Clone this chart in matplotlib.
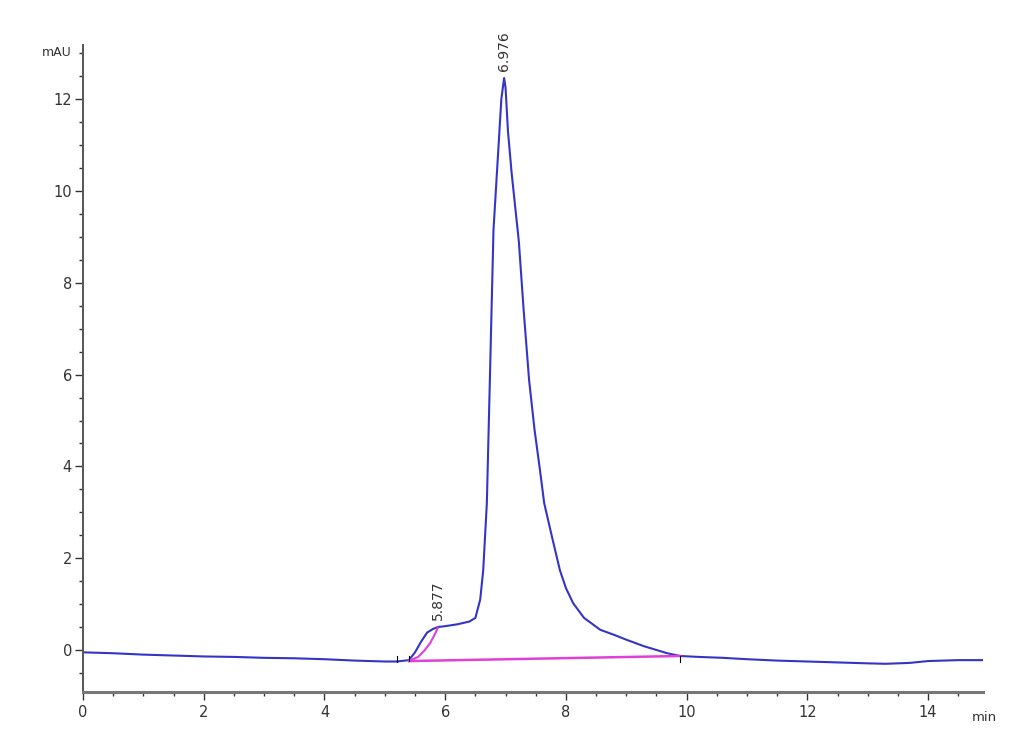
import numpy as np
import matplotlib.pyplot as plt
from matplotlib.ticker import MultipleLocator

# chromatogram trace (min, mAU)
t = [0.0, 0.5, 1.0, 1.5, 2.0, 2.5, 3.0, 3.5, 4.0, 4.5, 5.0, 5.2, 5.4,
     5.5, 5.6, 5.7, 5.8, 5.877, 6.0, 6.2, 6.4, 6.5, 6.58, 6.63, 6.69,
     6.74, 6.80, 6.88, 6.93, 6.976, 7.0, 7.04, 7.1, 7.22, 7.3,
     7.39, 7.48, 7.57, 7.64, 7.77, 7.9, 8.0, 8.12, 8.3, 8.57, 8.8, 9.01,
     9.3, 9.68, 9.89, 10.2, 10.6, 11.0, 11.5, 12.0, 12.5, 13.0, 13.3,
     13.7, 14.0, 14.5, 14.91]
mau = [-0.05, -0.07, -0.1, -0.12, -0.14, -0.15, -0.17, -0.18, -0.2,
       -0.23, -0.25, -0.25, -0.22, -0.05, 0.18, 0.38, 0.46, 0.5, 0.52,
       0.56, 0.62, 0.7, 1.1, 1.74, 3.2, 5.88, 9.15, 10.9, 12.0,
       12.46, 12.25, 11.3, 10.4, 8.9, 7.4, 5.88, 4.8, 3.92, 3.2, 2.46,
       1.74, 1.35, 1.02, 0.7, 0.44, 0.33, 0.22, 0.08, -0.07, -0.13,
       -0.15, -0.17, -0.2, -0.23, -0.25, -0.27, -0.29, -0.3, -0.28,
       -0.24, -0.22, -0.22]

# integration baseline and split line
base_t = [5.4, 9.89]
base_y = [-0.24, -0.13]
split_t = [5.4, 5.55, 5.65, 5.75, 5.82, 5.877]
split_y = [-0.24, -0.15, -0.02, 0.15, 0.32, 0.48]

peaks = [5.877, 6.976]
peak_h = [0.5, 12.46]

fig = plt.figure(figsize=(10.3, 7.55), dpi=100)
ax = fig.add_axes([0.0806, 0.0834, 0.8738, 0.857])

ax.plot(t, mau, color='#3434c8', lw=1.5)
ax.plot(base_t, base_y, color='#e040d8', lw=1.8)
ax.plot(split_t, split_y, color='#e040d8', lw=1.5)

for p, h in zip(peaks, peak_h):
    ax.text(p, h + 0.15, '%.3f' % p, rotation=90, ha='center', va='bottom',
            fontsize=10, color='#333333')

# small integration event ticks
for x0, y0, d in [(5.2, -0.25, 1), (5.4, -0.24, 1), (9.89, -0.13, -1)]:
    ax.plot([x0, x0], [y0, y0 + d * 0.12], color='black', lw=0.8)

ax.set_xlim(0, 14.91)
ax.set_ylim(-0.915, 13.18)
ax.xaxis.set_major_locator(MultipleLocator(2))
ax.xaxis.set_minor_locator(MultipleLocator(0.5))
ax.yaxis.set_major_locator(MultipleLocator(2))
ax.yaxis.set_minor_locator(MultipleLocator(0.5))

for s in ['top', 'right']:
    ax.spines[s].set_visible(False)
ax.spines['left'].set_color('#555555')
ax.spines['left'].set_linewidth(1.4)
ax.spines['bottom'].set_color('#777777')
ax.spines['bottom'].set_linewidth(2.2)

ax.tick_params(axis='both', which='major', length=6, width=1, colors='#333333',
               labelsize=10.5)
ax.tick_params(axis='both', which='minor', length=3, width=1, color='#333333')
ax.tick_params(axis='y', pad=2)

fig.text(0.055, 0.93, 'mAU', fontsize=9, color='#333333', ha='center',
         va='center')
fig.text(0.943, 0.05, 'min', fontsize=9.5, color='#333333', ha='left',
         va='center')

fig.savefig('out.png')
